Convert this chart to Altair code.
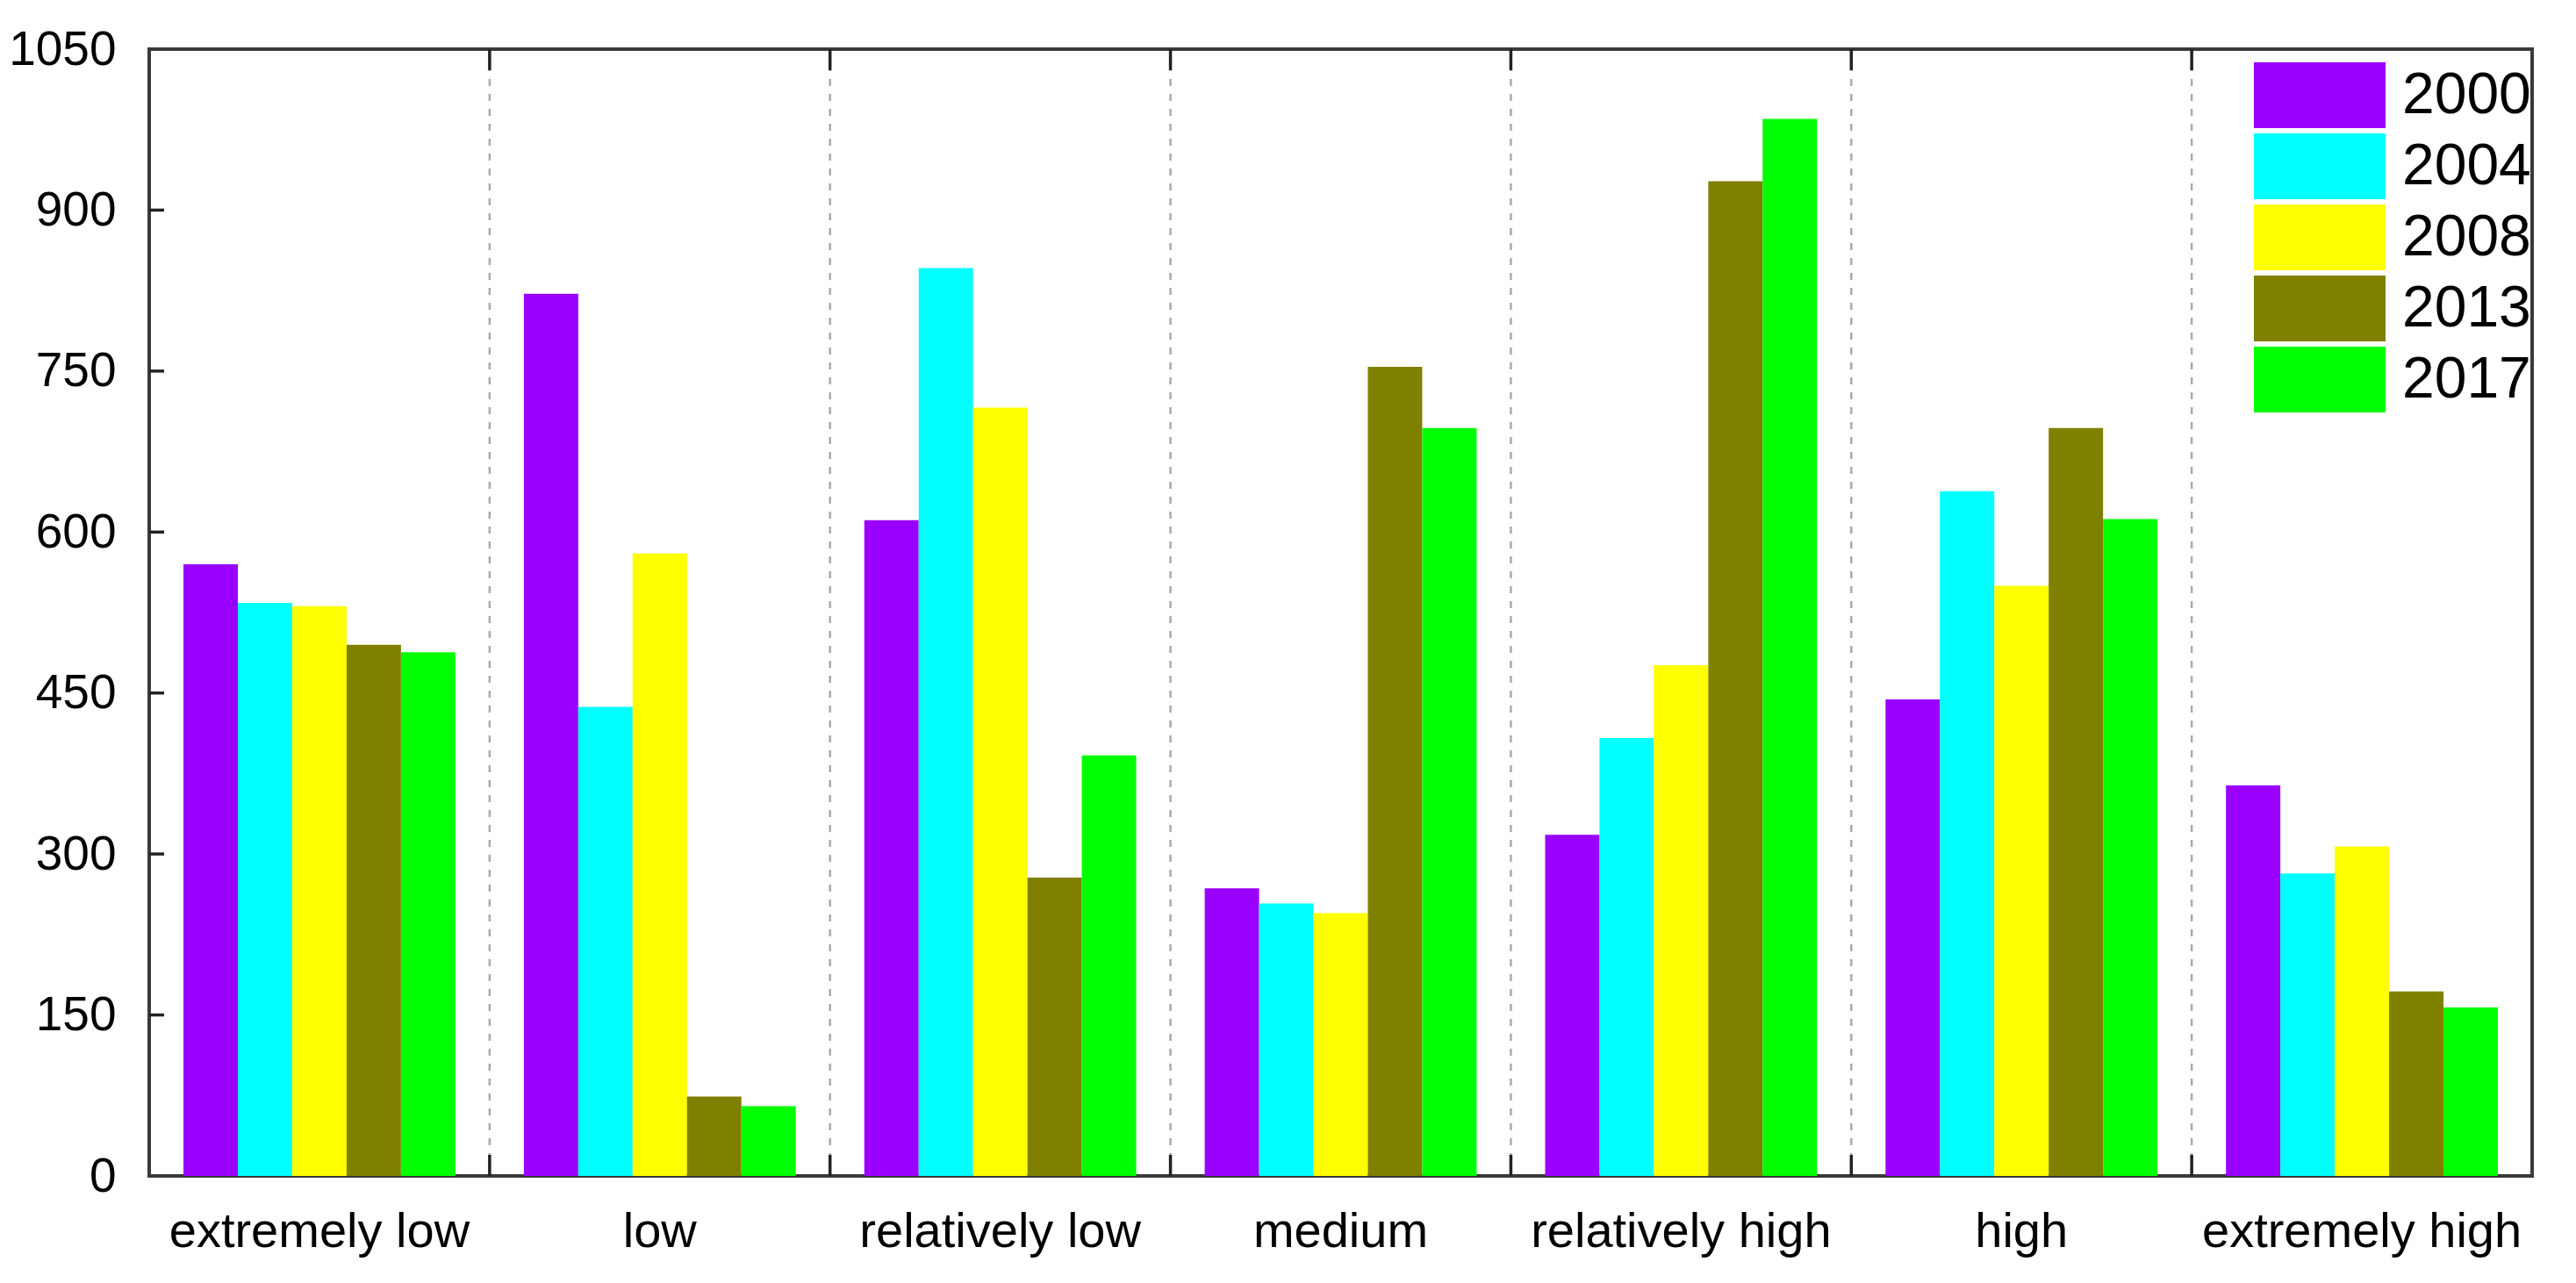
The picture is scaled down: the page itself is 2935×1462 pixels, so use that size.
import altair as alt
import pandas as pd

categories = ["extremely low", "low", "relatively low", "medium",
              "relatively high", "high", "extremely high"]
years = ["2000", "2004", "2008", "2013", "2017"]
colors = ["#9900FF", "#00FFFF", "#FFFF00", "#808000", "#00FF00"]

v2000 = [570, 822, 611, 268, 318, 444, 364]
v2004 = [534, 437, 846, 254, 408, 638, 282]
v2008 = [531, 580, 716, 245, 476, 550, 307]
v2013 = [495, 74, 278, 754, 927, 697, 172]
v2017 = [488, 65, 392, 697, 985, 612, 157]
y_ticks = [0, 150, 300, 450, 600, 750, 900, 1050]

series = {"2000": v2000, "2004": v2004, "2008": v2008, "2013": v2013, "2017": v2017}
rows = []
for yr in years:
    for c, v in zip(categories, series[yr]):
        rows.append({"category": c, "year": yr, "value": v})
df = pd.DataFrame(rows)
sep_df = pd.DataFrame({"category": categories[1:]})
ytick_df = pd.DataFrame({"value": y_ticks[1:-1]})

W, H = 2715, 1284
FONT = "Liberation Sans"

bars = alt.Chart(df).mark_bar(strokeWidth=0).encode(
    x=alt.X("category:N", sort=categories,
            scale=alt.Scale(paddingInner=0, paddingOuter=0),
            axis=alt.Axis(values=categories)),
    xOffset=alt.XOffset("year:N", sort=years,
                        scale=alt.Scale(paddingOuter=0.63, paddingInner=0)),
    y=alt.Y("value:Q", scale=alt.Scale(domain=[0, 1050], nice=False, zero=True),
            axis=alt.Axis(values=y_ticks, format="d")),
    color=alt.Color("year:N", sort=years,
                    scale=alt.Scale(domain=years, range=colors),
                    legend=alt.Legend(title=None, orient="none", legendX=2398, legendY=15,
                                      symbolType="M-1,-1H3V1H-1Z", symbolSize=5625,
                                      symbolStrokeWidth=0, symbolOpacity=1,
                                      labelFontSize=66, labelFont=FONT, labelColor="#000",
                                      labelLimit=0, labelOffset=94, rowPadding=6,
                                      padding=0)),
)

xsep = alt.X("category:N", sort=categories, bandPosition=0)

dashed = alt.Chart(sep_df).mark_rule(strokeDash=[8, 9], color="#aaaaaa", strokeWidth=2.5).encode(
    x=xsep
)
top_ticks = alt.Chart(sep_df).mark_rule(color="#222", strokeWidth=3.5).encode(
    x=xsep, y=alt.value(0), y2=alt.value(24)
)
bot_ticks = alt.Chart(sep_df).mark_rule(color="#222", strokeWidth=3.5).encode(
    x=xsep, y=alt.value(H - 24), y2=alt.value(H)
)
y_inner = alt.Chart(ytick_df).mark_rule(color="#222", strokeWidth=3.5).encode(
    y=alt.Y("value:Q"), x=alt.value(0), x2=alt.value(17)
)

chart = alt.layer(bars, dashed, top_ticks, bot_ticks, y_inner).properties(
    width=W, height=H,
    autosize=alt.AutoSizeParams(type="none"),
    padding={"left": 162, "top": 48, "right": 42, "bottom": 114},
).configure(
    font=FONT, background="white"
).configure_view(
    stroke="#3a3a3a", strokeWidth=4
).configure_axisX(
    title=None, labelAngle=0, ticks=False, domain=False, grid=False,
    labelFontSize=56, labelPadding=36, labelColor="#000", labelFont=FONT, labelLimit=0
).configure_axisY(
    title=None, ticks=False, domain=False, grid=False,
    labelFontSize=55, labelPadding=38, labelColor="#000", labelFont=FONT, labelLimit=0
)

chart.save("out.html", embed_options={"renderer": "svg", "actions": False})
